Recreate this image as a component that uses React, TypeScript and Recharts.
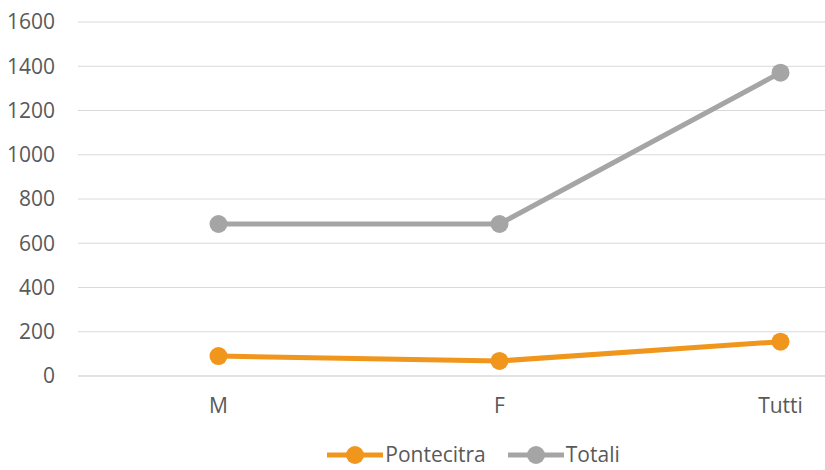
import { CartesianGrid, Legend, Line, LineChart, XAxis, YAxis } from "recharts";

const categories = ["M", "F", "Tutti"];
const pontecitra = [90, 68, 155];
const totali = [687, 687, 1371];
const yTicks = [0, 200, 400, 600, 800, 1000, 1200, 1400, 1600];

const data = categories.map((c, i) => ({
  name: c,
  Pontecitra: pontecitra[i],
  Totali: totali[i],
}));

const FONT = "'Open Sans', 'Liberation Sans', sans-serif";
const ORANGE = "#F0961C";
const GREY = "#A5A5A5";

function LegendContent() {
  const items = [
    { label: "Pontecitra", color: ORANGE },
    { label: "Totali", color: GREY },
  ];
  return (
    <div
      style={{
        display: "flex",
        justifyContent: "center",
        gap: 22,
        paddingTop: 3,
        paddingLeft: 122,
        height: 29,
        fontFamily: FONT,
        fontSize: 21,
        lineHeight: "29px",
        color: "#595959",
      }}
    >
      {items.map((it) => (
        <div key={it.label} style={{ display: "flex", alignItems: "center" }}>
          <svg width={56} height={20}>
            <line x1={0} y1={10} x2={56} y2={10} stroke={it.color} strokeWidth={5} />
            <circle cx={28} cy={10} r={9} fill={it.color} />
          </svg>
          <span style={{ marginLeft: 2, whiteSpace: "nowrap" }}>{it.label}</span>
        </div>
      ))}
    </div>
  );
}

export default function App() {
  // the original is cropped on the right, so the plot runs past the visible edge
  return (
    <div style={{ position: "absolute", left: 0, top: 0, width: 825, height: 470, overflow: "hidden", background: "#fff" }}>
      <LineChart width={925} height={470} data={data} margin={{ top: 22, right: 4, left: 0, bottom: 0 }}>
        <CartesianGrid stroke="#D9D9D9" vertical={false} />
        <XAxis
          dataKey="name"
          scale="band"
          axisLine={{ stroke: "#D9D9D9" }}
          tickLine={false}
          tickMargin={16}
          height={61}
          tick={{ fill: "#595959", fontSize: 21, fontFamily: FONT }}
        />
        <YAxis
          domain={[0, 1600]}
          ticks={yTicks}
          width={78}
          axisLine={false}
          tickLine={false}
          tickMargin={17}
          tick={{ fill: "#595959", fontSize: 21, fontFamily: FONT }}
        />
        <Legend
          verticalAlign="bottom"
          height={33}
          wrapperStyle={{ width: 825, left: 0 }}
          content={<LegendContent />}
        />
        <Line
          dataKey="Pontecitra"
          stroke={ORANGE}
          strokeWidth={5}
          dot={{ r: 9, fill: ORANGE, stroke: ORANGE, strokeWidth: 0 }}
          isAnimationActive={false}
        />
        <Line
          dataKey="Totali"
          stroke={GREY}
          strokeWidth={5}
          dot={{ r: 9, fill: GREY, stroke: GREY, strokeWidth: 0 }}
          isAnimationActive={false}
        />
      </LineChart>
    </div>
  );
}
